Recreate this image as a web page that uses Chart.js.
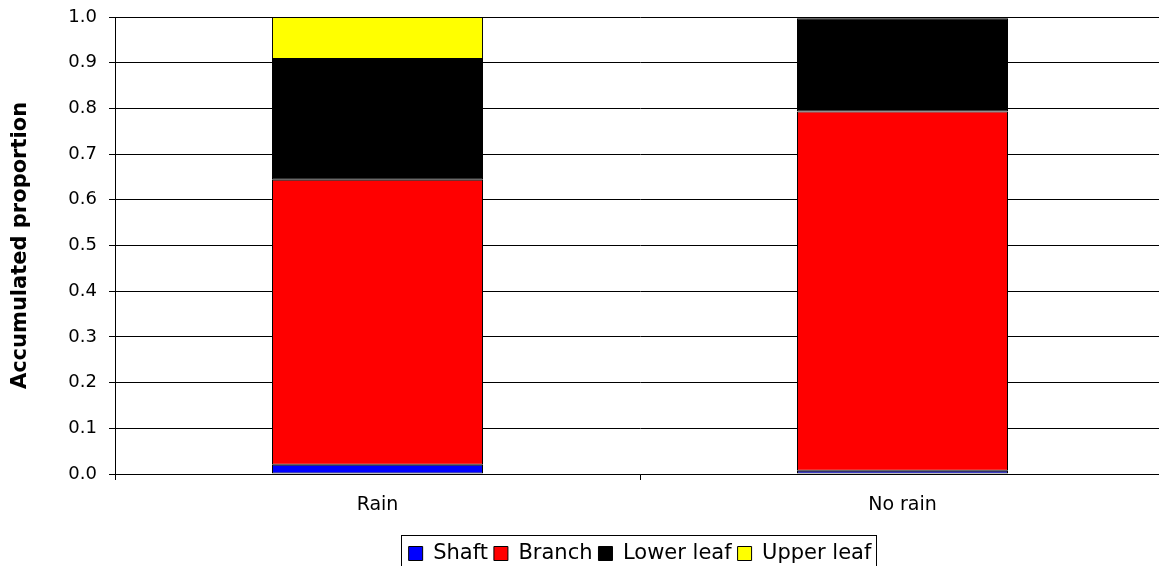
<!DOCTYPE html>
<html>
<head>
<meta charset="utf-8">
<script src="https://cdn.jsdelivr.net/npm/chart.js@4"></script>
<style>
  html, body { margin: 0; padding: 0; background: #fff; overflow: hidden; }
  #wrap { width: 1159px; height: 566px; overflow: hidden; }
</style>
</head>
<body>
<div id="wrap"><canvas id="myChart" width="1280" height="577"></canvas></div>
<script>
// values
const categories = ['Rain', 'No rain'];
const shaft = [0.020, 0.007];
const branch = [0.624, 0.786];
const lowerLeaf = [0.264, 0.203];
const upperLeaf = [0.092, 0.004];
const yTicks = [0, 0.1, 0.2, 0.3, 0.4, 0.5, 0.6, 0.7, 0.8, 0.9, 1.0];

const FONT = '"DejaVu Sans", "Liberation Sans", Arial, sans-serif';

function series(label, data, color) {
	return {
		label: label,
		data: data,
		backgroundColor: color,
		borderColor: '#000',
		borderWidth: 1,
		borderSkipped: false,
		barPercentage: 0.402,
		categoryPercentage: 1.0
	};
}

// box round the legend, like the original
const legendBorder = {
	id: 'legendBorder',
	afterDraw(chart) {
		const lg = chart.legend;
		if (!lg || !lg.legendHitBoxes.length) return;
		let x0 = Infinity, x1 = -Infinity, y0 = Infinity;
		lg.legendHitBoxes.forEach((b) => {
			x0 = Math.min(x0, b.left);
			x1 = Math.max(x1, b.left + b.width);
			y0 = Math.min(y0, b.top);
		});
		const ctx = chart.ctx;
		ctx.save();
		ctx.strokeStyle = '#000';
		ctx.lineWidth = 1;
		ctx.strokeRect(Math.round(x0 - 8) + 0.5, Math.round(y0 - 8) + 0.5, Math.round(x1 - x0 + 12), 44);
		ctx.restore();
	}
};

new Chart('myChart', {
	type: 'bar',
	data: {
		labels: categories,
		datasets: [
			series('Shaft', shaft, '#0000FF'),
			series('Branch', branch, '#FF0000'),
			series('Lower leaf', lowerLeaf, '#000000'),
			series('Upper leaf', upperLeaf, '#FFFF00')
		]
	},
	options: {
		responsive: false,
		animation: false,
		layout: { padding: { top: 17, bottom: 3, left: 0, right: 0 } },
		plugins: {
			tooltip: { enabled: false },
			legend: {
				position: 'bottom',
				labels: {
					color: '#000',
					font: { family: FONT, size: 21 },
					boxWidth: 14,
					boxHeight: 14,
					padding: 6,
					generateLabels(chart) {
						return chart.data.datasets.map((ds, i) => ({
							text: ds.label,
							fillStyle: ds.backgroundColor,
							strokeStyle: '#000',
							lineWidth: 1,
							datasetIndex: i,
							hidden: false
						}));
					}
				}
			}
		},
		scales: {
			x: {
				stacked: true,
				grid: { display: true, offset: true, drawOnChartArea: false, drawTicks: true, tickLength: 6, color: '#000' },
				border: { display: true, color: '#000', width: 1 },
				ticks: { color: '#000', font: { family: FONT, size: 19 }, padding: 14 },
				afterFit(s) { s.height = 63; }
			},
			y: {
				stacked: true,
				min: 0,
				max: 1,
				afterBuildTicks(s) { s.ticks = yTicks.map((v) => ({ value: v })); },
				grid: { color: '#000', lineWidth: 1, drawTicks: true, tickLength: 6 },
				border: { display: true, color: '#000', width: 1 },
				ticks: {
					color: '#000',
					font: { family: FONT, size: 18 },
					padding: 12,
					callback: (v) => Number(v).toFixed(1)
				},
				title: {
					display: true,
					text: 'Accumulated proportion',
					color: '#000',
					font: { family: FONT, size: 21, weight: 'bold' },
					padding: { top: 8, bottom: 0 }
				},
				afterFit(s) {
					s.width = 115;
					s.paddingTop = 0;
					s.paddingBottom = 0;
				}
			},
			// empty axis on the right so the plot runs past the window edge, as in the original
			yPad: {
				position: 'right',
				min: 0,
				max: 1,
				display: true,
				grid: { display: false, drawTicks: false },
				border: { display: false },
				ticks: { display: false },
				afterFit(s) { s.width = 115; }
			}
		}
	},
	plugins: [legendBorder]
});
</script>
</body>
</html>
